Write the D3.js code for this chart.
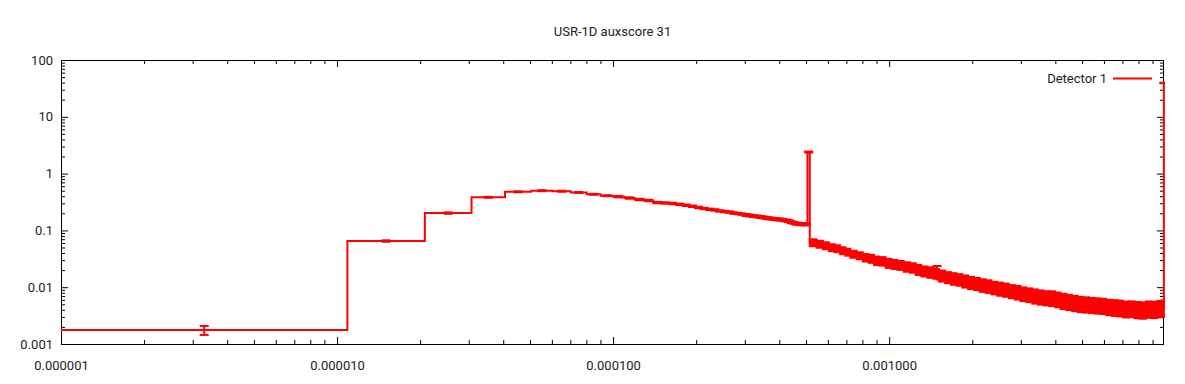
<!DOCTYPE html>
<html>
<head>
<meta charset="utf-8">
<script src="https://cdn.jsdelivr.net/npm/d3@7"></script>
<style>
  html, body { margin: 0; padding: 0; background: #fff; }
  svg text { font-family: Roboto, "Noto Sans", sans-serif; fill: #222; }
</style>
</head>
<body>
<svg id="chart" width="1185" height="384"></svg>
<script>
// ---------------- data ----------------
const chartTitle = "USR-1D auxscore 31";
const seriesName = "Detector 1";

// linear binning of the detector
const X_MIN = 1e-6;
const BIN_W = 9.9e-6;

// bin-edge indices: single bins up to 52, then groups of adjacent bins
const binEdges = [
  0,1,2,3,4,5,6,7,8,9,10,11,12,13,14,15,16,17,18,19,20,21,22,23,24,25,26,27,28,29,
  30,31,32,33,34,35,36,37,38,39,40,41,42,43,44,45,46,47,48,49,50,51,52,
  55,58,61,64,67,70,73,77,81,85,89,93,98,103,108,114,120,126,132,139,146,150,151,153,
  161,169,177,186,195,205,215,226,237,249,261,274,288,302,317,333,349,366,384,403,
  422,443,464,487,510,535,561,588,617,647,678,711,746,782,820,860,902,946,980,999,1000
];

// score per bin (or group of bins)
const values = [
  0.00176, 0.065, 0.202, 0.383, 0.478, 0.500, 0.490, 0.465, 0.432, 0.408,
  0.392, 0.372, 0.350, 0.336, 0.310, 0.304, 0.298, 0.288, 0.277, 0.266,
  0.253, 0.243, 0.235, 0.229, 0.220, 0.215, 0.211, 0.202, 0.198, 0.194,
  0.187, 0.183, 0.179, 0.176, 0.172, 0.169, 0.165, 0.162, 0.159, 0.157,
  0.156, 0.153, 0.150, 0.147, 0.140, 0.136, 0.132, 0.130, 0.129, 0.128,
  0.128, 2.40,
  0.0612, 0.0576, 0.0542, 0.0500, 0.0480, 0.0443, 0.0417, 0.0384, 0.0361, 0.0333,
  0.0320, 0.0295, 0.0289, 0.0267, 0.0256, 0.0246, 0.0231, 0.0222, 0.0205, 0.0193,
  0.0185, 0.0178, 0.0200, 0.0172, 0.0161, 0.0151, 0.01435, 0.01377, 0.01297, 0.0122,
  0.01171, 0.01102, 0.01058, 0.00996, 0.00956, 0.00918, 0.00864, 0.0083, 0.0078, 0.0075,
  0.00714, 0.00686, 0.00664, 0.00656, 0.00625, 0.00588, 0.00565, 0.00542, 0.0052, 0.0051,
  0.0050, 0.0049, 0.0048, 0.00461, 0.00452, 0.00443, 0.00425, 0.0043, 0.00417, 0.0041,
  0.00425, 0.0042, 0.00434, 0.0044, 39.4
];

// relative error in percent
const relErr = [
  18, 3, 3, 2, 2, 2, 2, 2, 2, 2,
  3, 3, 3, 3, 3, 3, 3, 3, 3, 3,
  3, 3, 3, 3, 3, 3, 3, 3, 3, 3,
  4, 4, 4, 4, 4, 4, 4, 4, 4, 4,
  4, 4, 4, 4, 4, 4, 4, 4, 4, 4,
  4, 2,
  14, 14, 14, 14, 14, 14, 14, 14, 14, 15,
  16, 17, 17, 18, 18, 18, 19, 19, 20, 20,
  21, 21, 18, 21, 22, 22, 23, 23, 24, 24,
  24, 25, 25, 25, 26, 26, 26, 27, 27, 27,
  28, 28, 28, 29, 29, 30, 30, 30, 30, 30,
  30, 30, 30, 30, 31, 31, 31, 31, 32, 32,
  32, 32, 32, 32, 1
];

const xTickVals   = [1e-6, 1e-5, 1e-4, 1e-3];
const xTickLabels = ["0.000001", "0.000010", "0.000100", "0.001000"];
const yTickVals   = [0.001, 0.01, 0.1, 1, 10, 100];
const yTickLabels = ["0.001", "0.01", "0.1", "1", "10", "100"];

// ---------------- layout ----------------
const M = { left: 61, right: 1164, top: 60, bottom: 344 };
const RED = "#ff0000";
const FONT = 13;

const svg = d3.select("#chart");

const edgeX = binEdges.map(k => X_MIN + k * BIN_W);
const x = d3.scaleLog().domain([edgeX[0], edgeX[edgeX.length - 1]]).range([M.left, M.right]);
const y = d3.scaleLog().domain([yTickVals[0], yTickVals[yTickVals.length - 1]]).range([M.bottom, M.top]);

// minor tick positions (2..9 per decade)
function minorTicks(domain) {
  const out = [];
  const lo = Math.floor(Math.log10(domain[0])), hi = Math.ceil(Math.log10(domain[1]));
  for (let e = lo; e <= hi; e++) {
    for (let m = 2; m <= 9; m++) {
      const v = m * Math.pow(10, e);
      if (v > domain[0] && v < domain[1]) out.push(v);
    }
  }
  return out;
}
const xMinor = minorTicks(x.domain());
const yMinor = minorTicks(y.domain());

function styleAxis(g) {
  g.select(".domain").remove();
  g.selectAll(".tick line").attr("stroke", "#000");
  g.attr("font-family", null).attr("font-size", null);
}

// bottom
svg.append("g").attr("transform", `translate(0,${M.bottom})`)
  .call(d3.axisBottom(x).tickValues(xTickVals).tickFormat((d, i) => xTickLabels[i]).tickSize(-7))
  .call(styleAxis)
  .call(g => g.selectAll("text").attr("y", 26).attr("dy", null).style("font-size", FONT + "px"));
svg.append("g").attr("transform", `translate(0,${M.bottom})`)
  .call(d3.axisBottom(x).tickValues(xMinor).tickFormat("").tickSize(-4)).call(styleAxis);
// top
svg.append("g").attr("transform", `translate(0,${M.top})`)
  .call(d3.axisTop(x).tickValues(xTickVals).tickFormat("").tickSize(-7)).call(styleAxis);
svg.append("g").attr("transform", `translate(0,${M.top})`)
  .call(d3.axisTop(x).tickValues(xMinor).tickFormat("").tickSize(-4)).call(styleAxis);
// left
svg.append("g").attr("transform", `translate(${M.left},0)`)
  .call(d3.axisLeft(y).tickValues(yTickVals).tickFormat((d, i) => yTickLabels[i]).tickSize(-7))
  .call(styleAxis)
  .call(g => g.selectAll("text").attr("x", -8).style("font-size", FONT + "px"));
svg.append("g").attr("transform", `translate(${M.left},0)`)
  .call(d3.axisLeft(y).tickValues(yMinor).tickFormat("").tickSize(-4)).call(styleAxis);
// right
svg.append("g").attr("transform", `translate(${M.right},0)`)
  .call(d3.axisRight(y).tickValues(yTickVals).tickFormat("").tickSize(-7)).call(styleAxis);
svg.append("g").attr("transform", `translate(${M.right},0)`)
  .call(d3.axisRight(y).tickValues(yMinor).tickFormat("").tickSize(-4)).call(styleAxis);

// frame
svg.append("rect")
  .attr("x", M.left + 0.5).attr("y", M.top + 0.5)
  .attr("width", M.right - M.left - 1).attr("height", M.bottom - M.top)
  .attr("fill", "none").attr("stroke", "#000").attr("stroke-width", 1);

// clip
svg.append("clipPath").attr("id", "plotclip").append("rect")
  .attr("x", M.left).attr("y", M.top - 2)
  .attr("width", M.right - M.left + 1).attr("height", M.bottom - M.top + 2);

const plot = svg.append("g").attr("clip-path", "url(#plotclip)");

// data records
const bins = values.map((v, i) => ({
  x0: edgeX[i], x1: edgeX[i + 1], v: v,
  lo: v * (1 - relErr[i] / 100), hi: v * (1 + relErr[i] / 100),
  group: (binEdges[i + 1] - binEdges[i]) > 1
}));

// grouped bins: error band formed by densely packed error bars
plot.selectAll("rect.band").data(bins.filter(b => b.group)).join("rect")
  .attr("class", "band")
  .attr("x", b => x(b.x0)).attr("width", b => x(b.x1) - x(b.x0))
  .attr("y", b => y(b.hi)).attr("height", b => y(b.lo) - y(b.hi))
  .attr("fill", RED).attr("stroke", RED).attr("stroke-width", 2)
  .attr("stroke-linejoin", "miter");

// individual error bars
const CAP = 4.5;
const single = bins.filter(b => !b.group);
const eb = plot.selectAll("g.eb").data(single).join("g").attr("class", "eb")
  .attr("stroke", RED).attr("stroke-width", 2).attr("fill", "none");
const cx = b => (x(b.x0) + x(b.x1)) / 2;
eb.append("line")
  .attr("x1", cx).attr("x2", cx)
  .attr("y1", b => y(b.lo)).attr("y2", b => y(b.hi));
eb.append("line")
  .attr("x1", b => cx(b) - CAP).attr("x2", b => cx(b) + CAP)
  .attr("y1", b => y(b.lo)).attr("y2", b => y(b.lo));
eb.append("line")
  .attr("x1", b => cx(b) - CAP).attr("x2", b => cx(b) + CAP)
  .attr("y1", b => y(b.hi)).attr("y2", b => y(b.hi));

// histogram step line
const stepPts = bins.map(b => [b.x0, b.v]);
stepPts.push([bins[bins.length - 1].x1, bins[bins.length - 1].v]);
const line = d3.line().x(d => x(d[0])).y(d => y(d[1])).curve(d3.curveStepAfter);
plot.append("path").attr("d", line(stepPts))
  .attr("fill", "none").attr("stroke", RED).attr("stroke-width", 2);

// title
svg.append("text").attr("x", (M.left + M.right) / 2).attr("y", 36)
  .attr("text-anchor", "middle").style("font-size", FONT + "px").text(chartTitle);

// legend
svg.append("text").attr("x", 1107).attr("y", 83)
  .attr("text-anchor", "end").style("font-size", FONT + "px").text(seriesName);
svg.append("line").attr("x1", 1113).attr("x2", 1152).attr("y1", 78.5).attr("y2", 78.5)
  .attr("stroke", RED).attr("stroke-width", 2);
</script>
</body>
</html>
